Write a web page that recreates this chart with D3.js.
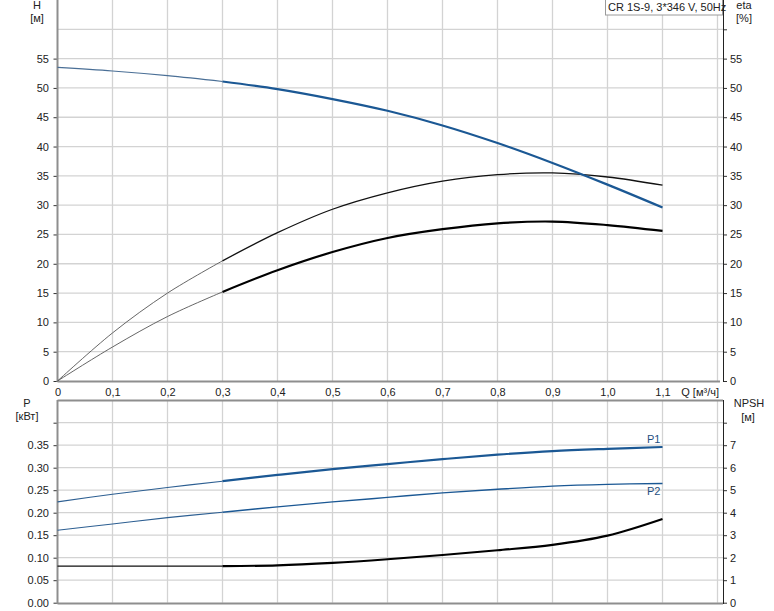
<!DOCTYPE html>
<html><head><meta charset="utf-8">
<script src="https://cdn.jsdelivr.net/npm/d3@7"></script>
<style>
body{margin:0;background:#fff;}
svg text{font-family:"Liberation Sans",Arial,sans-serif;font-size:11px;fill:#222;}
</style></head>
<body><svg id="chart" width="774" height="611"></svg>
<script>
// ---- data ----
const flow      = [0, 0.1, 0.2, 0.3, 0.4, 0.5, 0.6, 0.7, 0.8, 0.9, 1.0, 1.1];
const head      = [53.5, 52.9, 52.1, 51.1, 49.8, 48.1, 46.1, 43.6, 40.6, 37.2, 33.5, 29.6];
const etaPump   = [0, 8.2, 15.0, 20.5, 25.3, 29.3, 32.1, 34.1, 35.2, 35.5, 34.8, 33.4];
const etaTotal  = [0, 5.8, 11.0, 15.2, 18.9, 22.0, 24.4, 25.9, 26.9, 27.2, 26.6, 25.6];
const powerP1   = [0.224, 0.241, 0.256, 0.270, 0.284, 0.297, 0.308, 0.319, 0.329, 0.337, 0.342, 0.346];
const powerP2   = [0.161, 0.175, 0.189, 0.201, 0.213, 0.224, 0.234, 0.244, 0.252, 0.259, 0.263, 0.265];
const npsh      = [1.63, 1.63, 1.63, 1.63, 1.66, 1.77, 1.93, 2.12, 2.33, 2.57, 2.98, 3.72];
const qTicks    = [0, 0.1, 0.2, 0.3, 0.4, 0.5, 0.6, 0.7, 0.8, 0.9, 1.0, 1.1];
const qGrid     = [0.1, 0.2, 0.3, 0.4, 0.5, 0.6, 0.7, 0.8, 0.9, 1.0, 1.1, 1.2];
const hTicks    = [0, 5, 10, 15, 20, 25, 30, 35, 40, 45, 50, 55];
const hGrid     = [5, 10, 15, 20, 25, 30, 35, 40, 45, 50, 55, 60];
const pTicks    = [0, 0.05, 0.10, 0.15, 0.20, 0.25, 0.30, 0.35];
const pGrid     = [0.05, 0.10, 0.15, 0.20, 0.25, 0.30, 0.35, 0.40];
const npshTicks = [0, 1, 2, 3, 4, 5, 6, 7];
const legendText = "CR 1S-9, 3*346 V, 50Hz";
const splitQ = 0.3;

// ---- scales ----
const svg = d3.select("#chart");
const x = d3.scaleLinear().domain([0, 1.21]).range([57.5, 723]);
const yTop = d3.scaleLinear().domain([0, 65]).range([381, 0]);
const yBot = d3.scaleLinear().domain([0, 0.45]).range([602.7, 400.2]);
const yNpsh = d3.scaleLinear().domain([0, 9]).range([602.7, 400.2]);

const gridColor = "#d3d3d3";
const axisGrey = "#8e8e8e";
const blue = "#1b5894";

// ---- grids ----
function grid(yScale, vals, y0, y1){
  const g = svg.append("g");
  g.selectAll(".v").data(qGrid).join("line")
    .attr("x1", d => x(d)).attr("x2", d => x(d))
    .attr("y1", y0).attr("y2", y1)
    .attr("stroke", gridColor).attr("stroke-width", 1.3);
  g.selectAll(".h").data(vals).join("line")
    .attr("x1", x(0)).attr("x2", x(1.21))
    .attr("y1", d => yScale(d)).attr("y2", d => yScale(d))
    .attr("stroke", gridColor).attr("stroke-width", 1.3);
}
grid(yTop, hGrid, 0, 381);
grid(yBot, pGrid, 400.2, 602.7);

// ---- axes ----
function styleAxis(g){
  g.select(".domain").remove();
  g.selectAll("line").attr("stroke", "#333");
  g.selectAll("text").attr("fill", "#222").style("font-size", "11px");
}
svg.append("g").attr("transform", `translate(${x(0)},0)`)
  .call(d3.axisLeft(yTop).tickValues(hTicks).tickSize(4).tickPadding(4.5).tickFormat(d3.format("d")))
  .call(styleAxis);
svg.append("g").attr("transform", `translate(723,0)`)
  .call(d3.axisRight(yTop).tickValues(hGrid.concat([0])).tickSize(4).tickPadding(3)
    .tickFormat(d => d === 60 ? "" : d3.format("d")(d)))
  .call(styleAxis);
svg.append("g").attr("transform", `translate(0,381)`)
  .call(d3.axisBottom(x).tickValues(qTicks).tickSize(0).tickPadding(7)
    .tickFormat(d => d === 0 ? "0" : d3.format(".1f")(d).replace(".", ",")))
  .call(styleAxis);
svg.append("g").attr("transform", `translate(${x(0)},0)`)
  .call(d3.axisLeft(yBot).tickValues(pTicks.concat([0.40])).tickSize(4).tickPadding(4.5)
    .tickFormat(d => d > 0.37 ? "" : d3.format(".2f")(d)))
  .call(styleAxis);
svg.append("g").attr("transform", `translate(723,0)`)
  .call(d3.axisRight(yNpsh).tickValues(npshTicks.concat([8])).tickSize(4).tickPadding(3)
    .tickFormat(d => d === 8 ? "" : d3.format("d")(d)))
  .call(styleAxis);

// axis frame lines
const frame = svg.append("g");
frame.append("line").attr("x1", x(0)).attr("x2", x(0)).attr("y1", 0).attr("y2", 382)
  .attr("stroke", axisGrey).attr("stroke-width", 2);
frame.append("line").attr("x1", x(0)).attr("x2", 720).attr("y1", 381.5).attr("y2", 381.5)
  .attr("stroke", axisGrey).attr("stroke-width", 2);
frame.append("line").attr("x1", 723.5).attr("x2", 723.5).attr("y1", 0).attr("y2", 382)
  .attr("stroke", "#222").attr("stroke-width", 1);
frame.append("line").attr("x1", x(0)).attr("x2", x(0)).attr("y1", 400).attr("y2", 604)
  .attr("stroke", axisGrey).attr("stroke-width", 2);
frame.append("line").attr("x1", x(0)).attr("x2", 723).attr("y1", 400.5).attr("y2", 400.5)
  .attr("stroke", axisGrey).attr("stroke-width", 2);
frame.append("line").attr("x1", x(0)).attr("x2", 723).attr("y1", 603.5).attr("y2", 603.5)
  .attr("stroke", axisGrey).attr("stroke-width", 2);
frame.append("line").attr("x1", 723.5).attr("x2", 723.5).attr("y1", 400).attr("y2", 604)
  .attr("stroke", "#222").attr("stroke-width", 1);

// ---- curves ----
function drawCurve(vals, yScale, thinStyle, thickStyle){
  const pts = flow.map((q, i) => [q, vals[i]]);
  const line = d3.line().x(d => x(d[0])).y(d => yScale(d[1])).curve(d3.curveCatmullRom.alpha(0.5));
  const a = pts.filter(p => p[0] <= splitQ + 1e-9);
  const b = pts.filter(p => p[0] >= splitQ - 1e-9);
  svg.append("path").attr("d", line(a)).attr("fill", "none")
    .attr("stroke", thinStyle[0]).attr("stroke-width", thinStyle[1]);
  svg.append("path").attr("d", line(b)).attr("fill", "none")
    .attr("stroke", thickStyle[0]).attr("stroke-width", thickStyle[1]);
}
drawCurve(etaPump, yTop, ["#555", 0.9], ["#111", 1.3]);
drawCurve(etaTotal, yTop, ["#555", 0.9], ["#000", 2.2]);
drawCurve(head, yTop, ["#4a6f96", 1.1], [blue, 2.2]);
drawCurve(powerP2, yBot, ["#2d5f92", 1.1], [blue, 1.4]);
drawCurve(powerP1, yBot, ["#2d5f92", 1.1], [blue, 2.2]);
drawCurve(npsh, yNpsh, ["#111", 1.2], ["#000", 2.2]);

// curve labels
svg.append("text").attr("x", x(1.1) - 2).attr("y", yBot(powerP1[11]) - 4)
  .attr("text-anchor", "end").style("fill", "#1f4f7f").text("P1");
svg.append("text").attr("x", x(1.1) - 2).attr("y", yBot(powerP2[11]) + 12)
  .attr("text-anchor", "end").style("fill", "#1f4f7f").text("P2");

// ---- axis titles ----
function title(t, cx, y){
  svg.append("text").attr("x", cx).attr("y", y).attr("text-anchor", "middle").text(t);
}
title("H", 37, 9);
title("[м]", 37, 22);
title("eta", 744, 9);
title("[%]", 744, 22);
title("P", 27, 407);
title("[кВт]", 27, 420);
title("NPSH", 749, 407);
title("[м]", 748, 421);
svg.append("text").attr("x", 719).attr("y", 396).attr("text-anchor", "end").text("Q [м³/ч]");

// ---- legend box ----
svg.append("rect").attr("x", 605.5).attr("y", -1).attr("width", 117).attr("height", 16)
  .attr("fill", "#fff").attr("stroke", "#9a9a9a").attr("stroke-width", 1);
svg.append("text").attr("x", 608).attr("y", 11).text(legendText);
</script>
</body></html>
